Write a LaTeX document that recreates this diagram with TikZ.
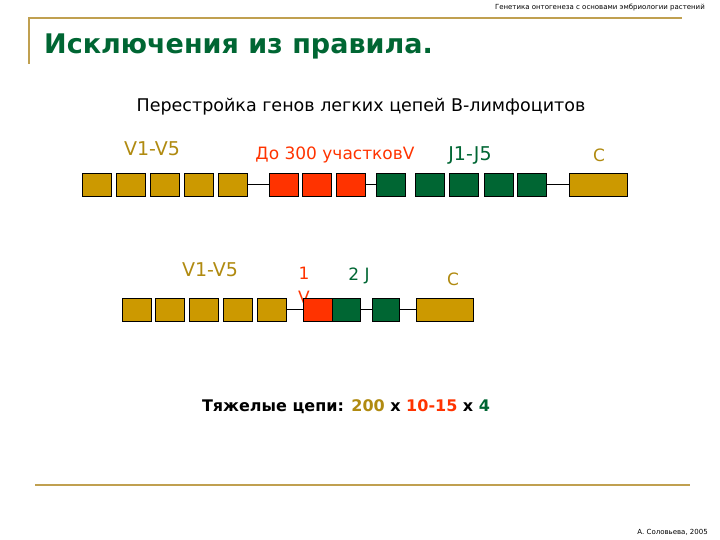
\documentclass[tikz,border=0pt]{standalone}
\usepackage{fontspec}
\setmainfont{DejaVu Sans}
\definecolor{genegold}{HTML}{CC9900}
\definecolor{genered}{HTML}{FF3300}
\definecolor{genegreen}{HTML}{006633}
\definecolor{labelgold}{HTML}{B08A10}
\definecolor{framegold}{HTML}{C0A050}

\begin{document}
\begin{tikzpicture}[x=1pt,y=-1pt,
  seg/.style={draw=black,line width=0.8pt,inner sep=0pt,minimum width=29pt,minimum height=23pt},
  lbl/.style={inner sep=0pt,font=\fontsize{17}{19}\selectfont}]
\useasboundingbox (0,0) rectangle (720,540);

% Frame lines
\draw[framegold,line width=2pt] (29,64) -- (29,18) -- (682,18);
\draw[framegold,line width=2.5pt] (35,485) -- (690,485);

% Header and title
\node[anchor=east,inner sep=0pt,font=\fontsize{7}{8}\selectfont] (head) at (705,8) {Генетика онтогенеза с основами эмбриологии растений};
\node[anchor=west,inner sep=0pt,text=genegreen,font=\fontsize{27}{30}\bfseries\selectfont] (title) at (44,46) {Исключения из правила.};
\node[lbl,font=\fontsize{17.5}{19}\selectfont] (sub) at (361,107) {Перестройка генов легких цепей В-лимфоцитов};

% Top row labels
\node[lbl,text=labelgold,font=\fontsize{19}{21}\selectfont] (tvl) at (152,149) {V1-V5};
\node[lbl,text=genered] (trl) at (335,155) {До 300 участковV};
\node[lbl,text=genegreen,font=\fontsize{19}{21}\selectfont] (tjl) at (470,155) {J1-J5};
\node[lbl,text=labelgold] (tcl) at (599,155) {C};

% Top row segments
\foreach \x [count=\i] in {97,131,165,199,233}
  \node[seg,fill=genegold] (tv\i) at (\x,184.5) {};
\foreach \x [count=\i] in {283.5,317,351}
  \node[seg,fill=genered] (tr\i) at (\x,184.5) {};
\foreach \x [count=\i] in {390.5,430,464,498.5,532}
  \node[seg,fill=genegreen] (tj\i) at (\x,184.5) {};
\node[seg,fill=genegold,minimum width=58pt] (tc) at (598,184.5) {};
\draw[line width=0.8pt] (tv5) -- (tr1) (tr3) -- (tj1) (tj5) -- (tc);

% Bottom row labels
\node[lbl,text=labelgold,font=\fontsize{19}{21}\selectfont] (bvl) at (210,270) {V1-V5};
\node[lbl,text=genered,align=center,font=\fontsize{17}{24}\selectfont] (brl) at (304,285) {1\\V};
\node[lbl,text=genegreen] (bjl) at (359,276) {2 J};
\node[lbl,text=labelgold] (bcl) at (453,279) {C};

% Bottom row segments
\foreach \x [count=\i] in {136.5,170,203.5,237.5,272}
  \node[seg,fill=genegold] (bv\i) at (\x,309.5) {};
\node[seg,fill=genered] (br) at (317.5,309.5) {};
\node[seg,fill=genegreen,minimum width=28pt] (bj1) at (346,309.5) {};
\node[seg,fill=genegreen,minimum width=27pt] (bj2) at (385.5,309.5) {};
\node[seg,fill=genegold,minimum width=57pt] (bc) at (444.5,309.5) {};
\draw[line width=0.8pt] (bv5) -- (br) (bj1) -- (bj2) (bj2) -- (bc);

% Heavy chains
\node[lbl,font=\fontsize{16}{18}\bfseries\selectfont] (heavy) at (346,407) {Тяжелые цепи: \textcolor{labelgold}{200} x \textcolor{genered}{10-15} x \textcolor{genegreen}{4}};

% Credit
\node[anchor=east,inner sep=0pt,font=\fontsize{7}{8}\selectfont] (credit) at (708,532) {А. Соловьева, 2005};
\end{tikzpicture}
\end{document}
